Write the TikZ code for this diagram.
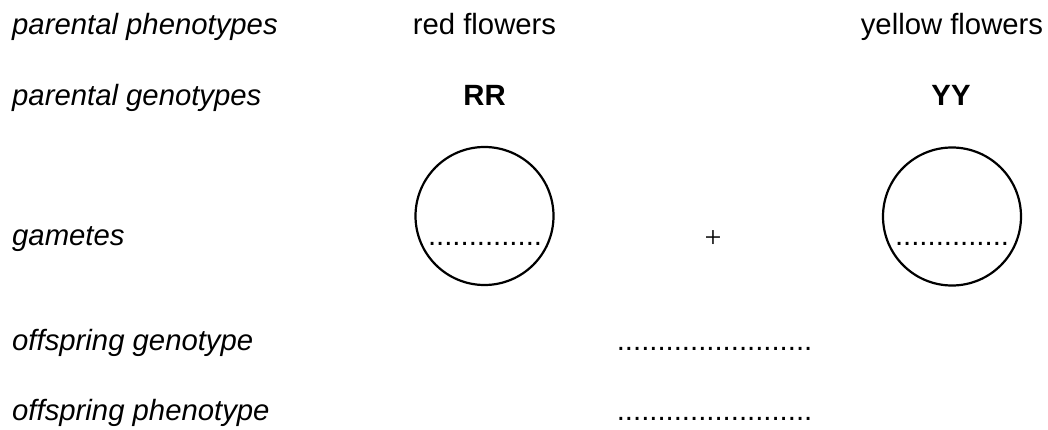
\documentclass[tikz,border=0pt]{standalone}
\usepackage{fontspec}
\setmainfont{Liberation Sans}
\newfontfamily\serifplus{Liberation Serif}
\begin{document}
\begin{tikzpicture}[x=1pt,y=-1pt,
  lab/.style={anchor=base west,inner sep=0pt,font=\fontsize{29.3}{34}\selectfont\itshape},
  txt/.style={anchor=base,inner sep=0pt,font=\fontsize{29.3}{34}\selectfont},
  btxt/.style={anchor=base,inner sep=0pt,font=\fontsize{29.3}{34}\selectfont\bfseries},
  gamete/.style={draw=black,line width=2.2pt,circle,minimum size=138pt,inner sep=0pt}]
\useasboundingbox (0,0) rectangle (1048,430);
% row labels
\node[lab] (l1) at (12,35) {parental phenotypes};
\node[lab] (l2) at (12,106) {parental genotypes};
\node[lab] (l3) at (12,245) {gametes};
\node[lab] (l4) at (12,350) {offspring genotype};
\node[lab] (l5) at (12,420) {offspring phenotype};
% parents
\node[txt] (p1) at (484.5,35) {red flowers};
\node[txt] (p2) at (952,35) {yellow flowers};
\node[btxt] (g1) at (484.5,106) {RR};
\node[btxt] (g2) at (951,106) {YY};
% gametes
\node[gamete] (c1) at (484.5,216) {};
\node[gamete] (c2) at (952,216.5) {};
\node[txt] (d1) at (485,245) {..............};
\node[txt] (d2) at (952,245) {..............};
\node[inner sep=0pt,font=\fontsize{30}{34}\serifplus] (plus) at (713,239) {+};
% offspring
\node[txt] (o1) at (714.5,350) {........................};
\node[txt] (o2) at (714.5,420) {........................};
\end{tikzpicture}
\end{document}
